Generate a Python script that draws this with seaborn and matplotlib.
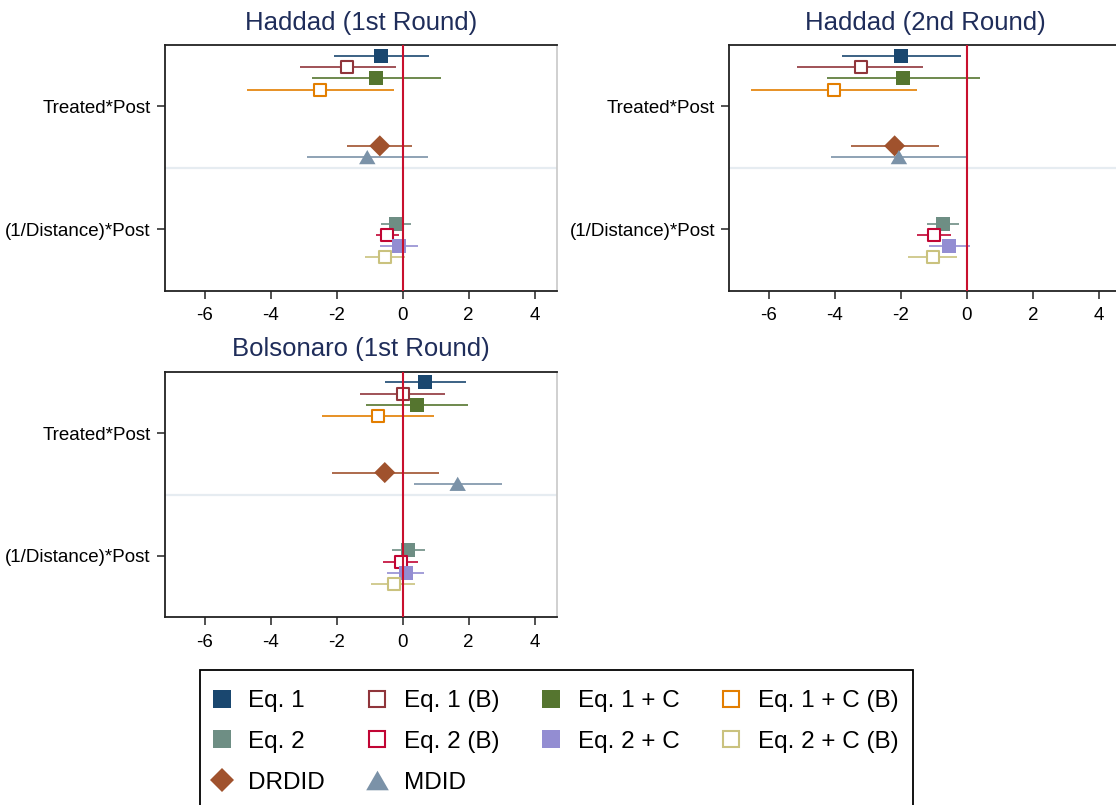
import numpy as np
import pandas as pd
import seaborn as sns
import matplotlib.pyplot as plt
from matplotlib.lines import Line2D
from matplotlib.patches import Rectangle

# ---- data ----
models = ["Eq. 1", "Eq. 1 (B)", "Eq. 1 + C", "Eq. 1 + C (B)",
          "Eq. 2", "Eq. 2 (B)", "Eq. 2 + C", "Eq. 2 + C (B)", "DRDID", "MDID"]
terms = ["Treated*Post"] * 4 + ["(1/Distance)*Post"] * 4 + ["Treated*Post"] * 2
term_order = ["Treated*Post", "(1/Distance)*Post"]
panels = ["Haddad (1st Round)", "Haddad (2nd Round)", "Bolsonaro (1st Round)"]

h1_coef = [-0.65, -1.67, -0.81, -2.49, -0.20, -0.47, -0.11, -0.54, -0.69, -1.07]
h1_low = [-2.09, -3.11, -2.76, -4.71, -0.65, -0.81, -0.68, -1.15, -1.67, -2.89]
h1_high = [0.79, -0.21, 1.15, -0.27, 0.24, -0.12, 0.47, 0.08, 0.29, 0.78]

h2_coef = [-2.00, -3.22, -1.93, -4.03, -0.73, -1.00, -0.54, -1.04, -2.19, -2.06]
h2_low = [-3.80, -5.14, -4.25, -6.55, -1.20, -1.51, -1.15, -1.77, -3.50, -4.12]
h2_high = [-0.19, -1.32, 0.39, -1.50, -0.25, -0.49, 0.09, -0.31, -0.84, 0.00]

b1_coef = [0.69, 0.00, 0.43, -0.75, 0.17, -0.06, 0.09, -0.27, -0.54, 1.67]
b1_low = [-0.53, -1.28, -1.11, -2.43, -0.31, -0.60, -0.47, -0.95, -2.15, 0.34]
b1_high = [1.91, 1.28, 1.99, 0.95, 0.67, 0.48, 0.66, 0.39, 1.09, 3.01]

xticks = [-6, -4, -2, 0, 2, 4]

# ---- styles ----
colors = ["#1a476f", "#90353b", "#55752f", "#e37e00", "#6e8e84",
          "#c10534", "#938dd2", "#cac27e", "#a0522d", "#7b92a8"]
tri = [(-1, -0.866), (1, -0.866), (0, 0.866)]
markers = ["s"] * 8 + ["D", tri]
hollow = [False, True] * 4 + [False, False]
sizes = [100, 78] * 4 + [115, 140]
step = 0.0917  # vertical offset between models within a coefficient

frames = []
for name, b, lo, hi in [(panels[0], h1_coef, h1_low, h1_high),
                        (panels[1], h2_coef, h2_low, h2_high),
                        (panels[2], b1_coef, b1_low, b1_high)]:
    frames.append(pd.DataFrame({"panel": name, "model": models, "term": terms,
                                "b": b, "lo": lo, "hi": hi}))
df = pd.concat(frames, ignore_index=True)
df["mi"] = df["model"].map({m: i for i, m in enumerate(models)})
df["y"] = df["term"].map({t: i for i, t in enumerate(term_order)}) + (df["mi"] - 4.5) * step

sns.set_theme(style="white")
plt.rcParams["font.family"] = ["Liberation Sans", "DejaVu Sans"]
plt.rcParams["text.color"] = "black"
plt.rcParams["xtick.color"] = "black"
plt.rcParams["ytick.color"] = "black"

W, H = 1116, 805
fig = plt.figure(figsize=(W / 100, H / 100), dpi=100)
boxes = [(164.7, 45), (729, 45), (164.7, 371.7)]
aw, ah = 392.3, 245.7

for (px, py), name in zip(boxes, panels):
    ax = fig.add_axes([px / W, 1 - (py + ah) / H, aw / W, ah / H])
    sub = df[df["panel"] == name]
    ax.axhline(0.5, color="#e6ecf1", lw=1.6, zorder=1)
    for i, m in enumerate(models):
        r = sub[sub["model"] == m]
        c = colors[i]
        ax.hlines(r["y"], r["lo"], r["hi"], color=c, lw=1.2, zorder=2)
        if hollow[i]:
            sns.scatterplot(data=r, x="b", y="y", ax=ax, marker=markers[i], s=sizes[i],
                            color=c, facecolor="white", edgecolor=c, linewidth=1.5,
                            legend=False, zorder=3)
        else:
            sns.scatterplot(data=r, x="b", y="y", ax=ax, marker=markers[i], s=sizes[i],
                            color=c, edgecolor="none", linewidth=0,
                            legend=False, zorder=3)
    ax.axvline(0, color="#c8102e", lw=1.5, zorder=4)
    ax.set_xlim(-7.21, 4.68)
    ax.set_ylim(1.5, -0.5)
    ax.set_xticks(xticks)
    ax.set_xticklabels([str(t) for t in xticks])
    ax.set_yticks(range(len(term_order)))
    ax.set_yticklabels(term_order)
    ax.set_xlabel("")
    ax.set_ylabel("")
    ax.tick_params(axis="both", length=6, width=1.2, color="#333333",
                   labelsize=13.5, labelcolor="black", pad=4, left=True, bottom=True)
    ax.tick_params(axis="x", pad=6)
    for s in ["left", "bottom", "top"]:
        ax.spines[s].set_color("#222222")
        ax.spines[s].set_linewidth(1.3)
    ax.spines["right"].set_color("#c8c8c8")
    ax.spines["right"].set_linewidth(1.2)
    ax.set_title(name, fontsize=18.5, color="#1f2d5a", pad=11)

# legend: handles ordered so matplotlib's column fill gives row-wise layout
handles = []
for i, m in enumerate(models):
    if markers[i] == "D":
        ms = 12.7
    elif markers[i] == "s":
        ms = 11.5 if hollow[i] else 13
    else:
        ms = 16.3
    handles.append(Line2D([], [], linestyle="none", marker=markers[i], markersize=ms,
                          markerfacecolor="white" if hollow[i] else colors[i],
                          markeredgecolor=colors[i],
                          markeredgewidth=1.5 if hollow[i] else 0, label=m))
order = [0, 4, 8, 1, 5, 9, 2, 6, 3, 7]
leg = fig.legend([handles[k] for k in order], [models[k] for k in order],
                 loc="upper left", bbox_to_anchor=(207 / W, 1 - 690 / H),
                 borderaxespad=0, borderpad=0, ncol=4, fontsize=17.5, frameon=False,
                 handlelength=1.2, handletextpad=0.5,
                 columnspacing=1.53, labelspacing=0.78)
for t in leg.get_texts():
    t.set_color("black")

# legend frame (runs past the bottom edge, as in the reference)
fig.add_artist(Rectangle((200 / W, -0.05), 713 / W, 1 - 670 / H + 0.05,
                         transform=fig.transFigure, fill=False,
                         edgecolor="black", linewidth=1.3))

fig.savefig("out.png", dpi=100)
